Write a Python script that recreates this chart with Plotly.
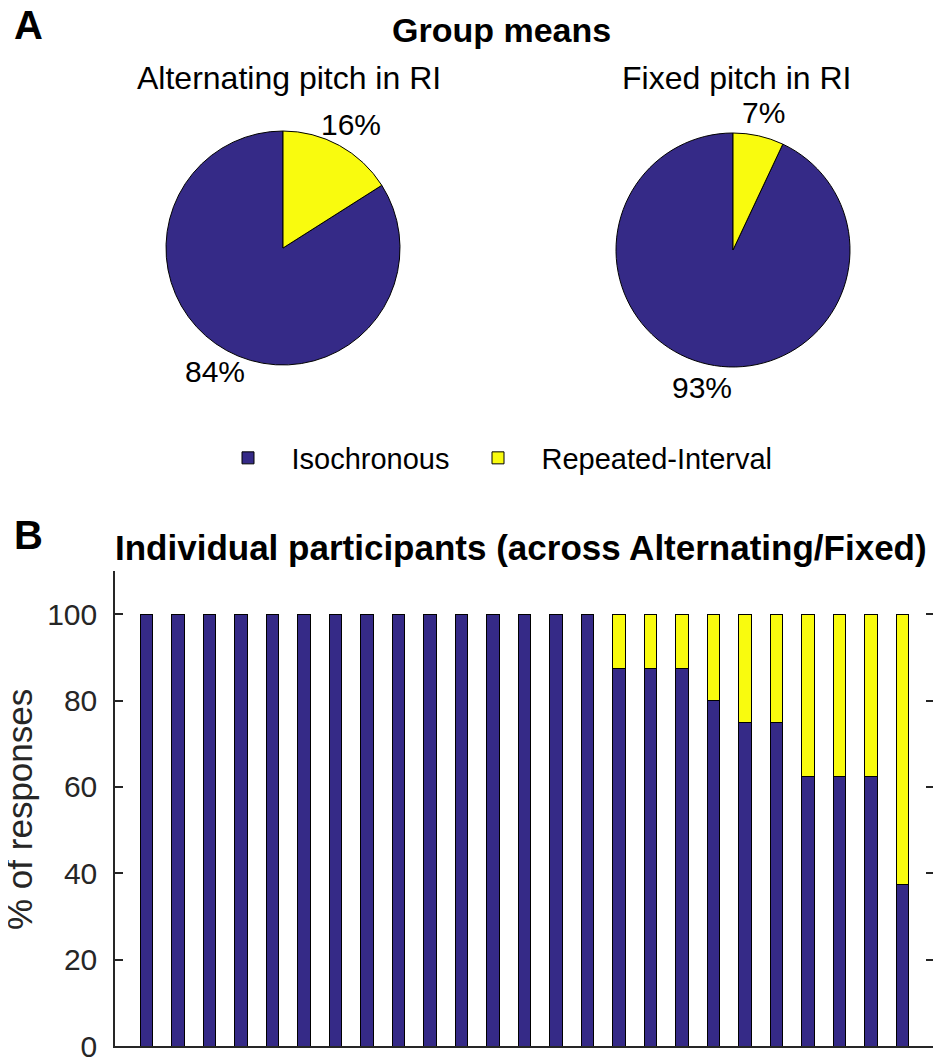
import math
import plotly.graph_objects as go

# ---- data ----
pie_labels = ["Isochronous", "Repeated-Interval"]
alternating_values = [84, 16]
fixed_values = [93, 7]
pie_titles = ["Alternating pitch in RI", "Fixed pitch in RI"]

participants = list(range(1, 26))
isochronous_pct = [100] * 15 + [87.5, 87.5, 87.5, 80, 75, 75, 62.5, 62.5, 62.5, 37.5]
repeated_pct = [100 - v for v in isochronous_pct]

y_ticks = [0, 20, 40, 60, 80, 100]

# ---- style ----
BLUE = "#352a87"
YELLOW = "#f9fb0e"
FONT = "Liberation Sans, Arial, sans-serif"
INK = "#262626"
W, H = 941, 1059
OFF = 8  # default page body margin


def px(x):
    return (x - OFF) / W


def py(y):
    return 1 - (y - OFF) / H


fig = go.Figure()

pie_boxes = [(166, 400, 131, 365), (616, 850, 133, 367)]  # left, right, top, bottom (px)
pct_annotations = []
for vals, (x0, x1, y0, y1) in zip([alternating_values, fixed_values], pie_boxes):
    total = sum(vals)
    # Repeated-Interval slice starts at 12 o'clock and runs clockwise
    start = 360.0 * vals[1] / total
    fig.add_trace(go.Pie(
        labels=pie_labels,
        values=vals,
        sort=False,
        direction="clockwise",
        rotation=start,
        domain=dict(x=[px(x0), px(x1)], y=[py(y1), py(y0)]),
        marker=dict(colors=[BLUE, YELLOW], line=dict(color="black", width=1)),
        textinfo="none",
        hoverinfo="label+percent",
        showlegend=True,
    ))
    # percentage labels just outside each slice (at its mid-angle)
    cx, cy, r = (x0 + x1) / 2, (y0 + y1) / 2, (x1 - x0) / 2
    ang = start
    for v in vals:
        mid = math.radians(ang + 180.0 * v / total)
        ang += 360.0 * v / total
        lx = cx + 1.2 * r * math.sin(mid)
        ly = cy - 1.2 * r * math.cos(mid)
        pct_annotations.append(dict(
            text=f"{round(100 * v / total)}%", x=px(lx), y=py(ly),
            xanchor="center", yanchor="middle", font=dict(size=30, color="black"),
        ))

fig.add_trace(go.Bar(
    x=participants, y=isochronous_pct, name="Isochronous",
    marker=dict(color=BLUE, line=dict(color="black", width=1)),
    width=0.4, showlegend=False, xaxis="x", yaxis="y",
))
fig.add_trace(go.Bar(
    x=participants, y=repeated_pct, name="Repeated-Interval",
    marker=dict(color=YELLOW, line=dict(color="black", width=1)),
    width=0.4, showlegend=False, xaxis="x", yaxis="y",
))

fig.update_layout(
    width=W, height=H,
    margin=dict(l=0, r=0, t=0, b=0, autoexpand=False),
    paper_bgcolor="white", plot_bgcolor="white",
    barmode="stack",
    font=dict(family=FONT, color=INK),
    xaxis=dict(
        domain=[px(115), px(934)], range=[0, 26], automargin=False,
        showticklabels=False, ticks="", showgrid=False, zeroline=False,
        showline=True, linecolor=INK, linewidth=1.5,
    ),
    yaxis=dict(
        domain=[py(1046), py(571)], range=[0, 110], automargin=False,
        tickvals=y_ticks, ticks="inside", ticklen=8, tickwidth=1.5, tickcolor=INK,
        showgrid=False, zeroline=False, showline=True, linecolor=INK, linewidth=1.5,
        mirror="ticks", ticklabeloverflow="allow", ticklabelstandoff=10,
        tickfont=dict(size=30, color=INK, family=FONT),
    ),
    legend=dict(
        orientation="h", x=px(491), xanchor="center", y=py(458), yanchor="middle",
        font=dict(size=29, color="black", family=FONT), bgcolor="rgba(0,0,0,0)",
        traceorder="normal", itemwidth=77,
    ),
)

annotations = [
    dict(text="<b>A</b>", x=px(12), y=py(25), xanchor="left", yanchor="middle", font=dict(size=40, color="black")),
    dict(text="<b>B</b>", x=px(12), y=py(535), xanchor="left", yanchor="middle", font=dict(size=40, color="black")),
    dict(text="<b>Group means</b>", x=px(501), y=py(30), xanchor="center", yanchor="middle", font=dict(size=34, color="black")),
    dict(text=pie_titles[0], x=px(289), y=py(78), xanchor="center", yanchor="middle", font=dict(size=32, color="black")),
    dict(text=pie_titles[1], x=px(736), y=py(78), xanchor="center", yanchor="middle", font=dict(size=32, color="black")),
    dict(text="<b>Individual participants (across Alternating/Fixed)</b>", x=px(521), y=py(547), xanchor="center", yanchor="middle", font=dict(size=35, color="black")),
    dict(text="% of responses", x=px(19), y=py(810), xanchor="center", yanchor="middle", textangle=-90, font=dict(size=35, color=INK)),
] + pct_annotations
for a in annotations:
    a.update(xref="paper", yref="paper", showarrow=False)
    a["font"]["family"] = FONT
fig.update_layout(annotations=annotations)

fig.write_html("out.html")
